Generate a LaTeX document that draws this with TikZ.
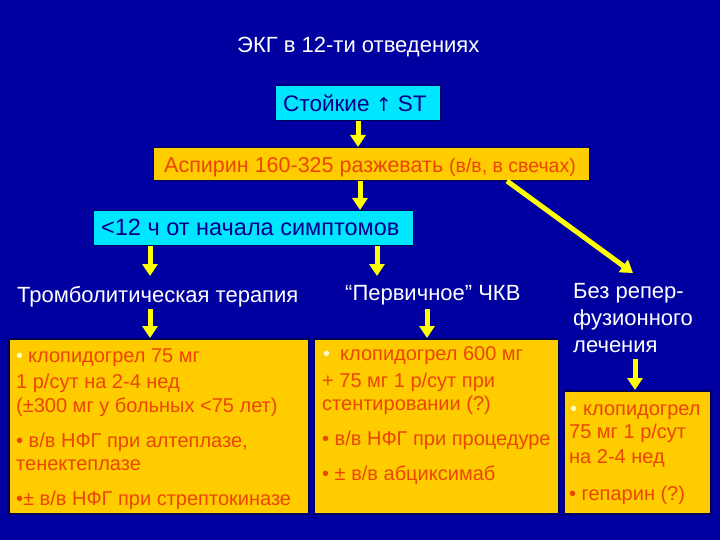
\documentclass[tikz,border=0pt]{standalone}
\usepackage{fontspec}
\setmainfont{Liberation Sans}
\newfontfamily\dv{DejaVu Sans}
\usetikzlibrary{arrows.meta}
\definecolor{bg}{RGB}{0,0,160}
\definecolor{cy}{RGB}{0,230,255}
\definecolor{gold}{RGB}{255,204,0}
\definecolor{txr}{RGB}{235,70,0}
\definecolor{navy}{RGB}{0,0,90}
\definecolor{ylw}{RGB}{255,255,0}
\definecolor{dtxt}{RGB}{0,0,140}
\definecolor{pale}{RGB}{255,250,200}
\tikzset{
  arr/.style={draw=ylw,line width=5pt,-{Triangle[width=15pt,length=12pt]}},
  cybox/.style={fill=cy,draw=navy,line width=1pt,inner sep=0pt,anchor=north west},
  gbox/.style={fill=gold,draw=navy,line width=1.6pt,inner sep=0pt,anchor=north west},
  wtxt/.style={text=white,font=\fontsize{22}{24}\selectfont,inner sep=0pt,anchor=base west},
  btxt/.style={text=txr,font=\fontsize{20}{22}\selectfont,inner sep=0pt,anchor=base west},
  pbul/.style={text=pale,font=\fontsize{20}{22}\selectfont,inner sep=0pt,anchor=base west},
}
\begin{document}
\begin{tikzpicture}[x=1pt,y=-1pt]
\fill[bg] (0,0) rectangle (720,540);
\useasboundingbox (0,0) rectangle (720,540);
% title
\node[wtxt] (title) at (237,53) {ЭКГ в 12-ти отведениях};
% Стойкие ST
\node[cybox,minimum width=165pt,minimum height=35pt] (stoik) at (275,85) {};
\node[text=dtxt,font=\fontsize{22.5}{24}\selectfont,inner sep=0pt,anchor=base west] (stoikt) at (283,112) {Стойкие {\dv\fontsize{19}{20}\selectfont↑} ST};
% Аспирин
\node[gbox,line width=1pt,minimum width=436pt,minimum height=33pt] (asp) at (153,147) {};
\node[btxt,font=\fontsize{21.5}{24}\selectfont] (aspt) at (164,173) {Аспирин 160-325 разжевать {\fontsize{19.5}{22}\selectfont(в/в, в свечах)}};
% <12 ч
\node[cybox,minimum width=320pt,minimum height=35pt] (lt12) at (93,210) {};
\node[text=dtxt,font=\fontsize{23.5}{26}\selectfont,inner sep=0pt,anchor=base west] (lt12t) at (101,236) {<12 ч от начала симптомов};
% headings
\node[wtxt] (thr) at (17,302) {Тромболитическая терапия};
\node[wtxt] (pci) at (345,300) {“Первичное” ЧКВ};
\node[wtxt] (nr1) at (573,298) {Без репер-};
\node[wtxt] (nr2) at (573,325) {фузионного};
\node[wtxt] (nr3) at (573,352) {лечения};
% boxes
\node[gbox,minimum width=300pt,minimum height=175pt] (boxL) at (8,338) {};
\node[gbox,minimum width=245pt,minimum height=175pt] (boxM) at (313,338) {};
\node[gbox,minimum width=147pt,minimum height=123pt] (boxR) at (563,390) {};
% left box text
\node[pbul] (l0b) at (16,362) {•};
\node[btxt] (l1) at (28,362) {клопидогрел 75 мг};
\node[btxt] (l2) at (16,388) {1 р/сут на 2-4 нед};
\node[btxt] (l3) at (16,412) {(±300 мг у больных <75 лет)};
\node[btxt] (l4) at (16,447) {• в/в НФГ при алтеплазе,};
\node[btxt] (l5) at (16,470) {тенектеплазе};
\node[btxt] (l6) at (16,505) {•± в/в НФГ при стрептокиназе};
% middle box text
\node[pbul] (m0b) at (323,360) {•};
\node[btxt] (m1) at (340,360) {клопидогрел 600 мг};
\node[btxt] (m2) at (322,387) {+ 75 мг 1 р/сут при};
\node[btxt] (m3) at (322,410) {стентировании (?)};
\node[btxt] (m4) at (322,445) {• в/в НФГ при процедуре};
\node[btxt] (m5) at (322,480) {• ± в/в абциксимаб};
% right box text
\node[pbul] (r0b) at (570,415) {•};
\node[btxt] (r1) at (583,415) {клопидогрел};
\node[btxt] (r2) at (569,438) {75 мг 1 р/сут};
\node[btxt] (r3) at (569,463) {на 2-4 нед};
\node[btxt] (r4) at (569,500) {• гепарин (?)};
% helper coordinates
\coordinate (xa) at (360,0);
\coordinate (xl) at (150,0);
\coordinate (xm) at (377,0);
\coordinate (xm2) at (427,0);
\coordinate (xr) at (635,0);
\coordinate (dstart) at (507,181);
\coordinate (dend) at (633,273);
% connectors
\draw[arr] (stoik.south) -- (stoik.south |- asp.north);
\draw[arr] (asp.south -| xa) -- (lt12.north -| xa);
\draw[arr] (lt12.south -| xl) -- (xl |- 0,276);
\draw[arr] (lt12.south -| xm) -- (xm |- 0,276);
\draw[arr] (dstart) -- (dend);
\draw[arr] (xl |- 0,309) -- (boxL.north -| xl);
\draw[arr] (xm2 |- 0,309) -- (boxM.north -| xm2);
\draw[arr] (xr |- 0,359) -- (boxR.north -| xr);
\end{tikzpicture}
\end{document}
